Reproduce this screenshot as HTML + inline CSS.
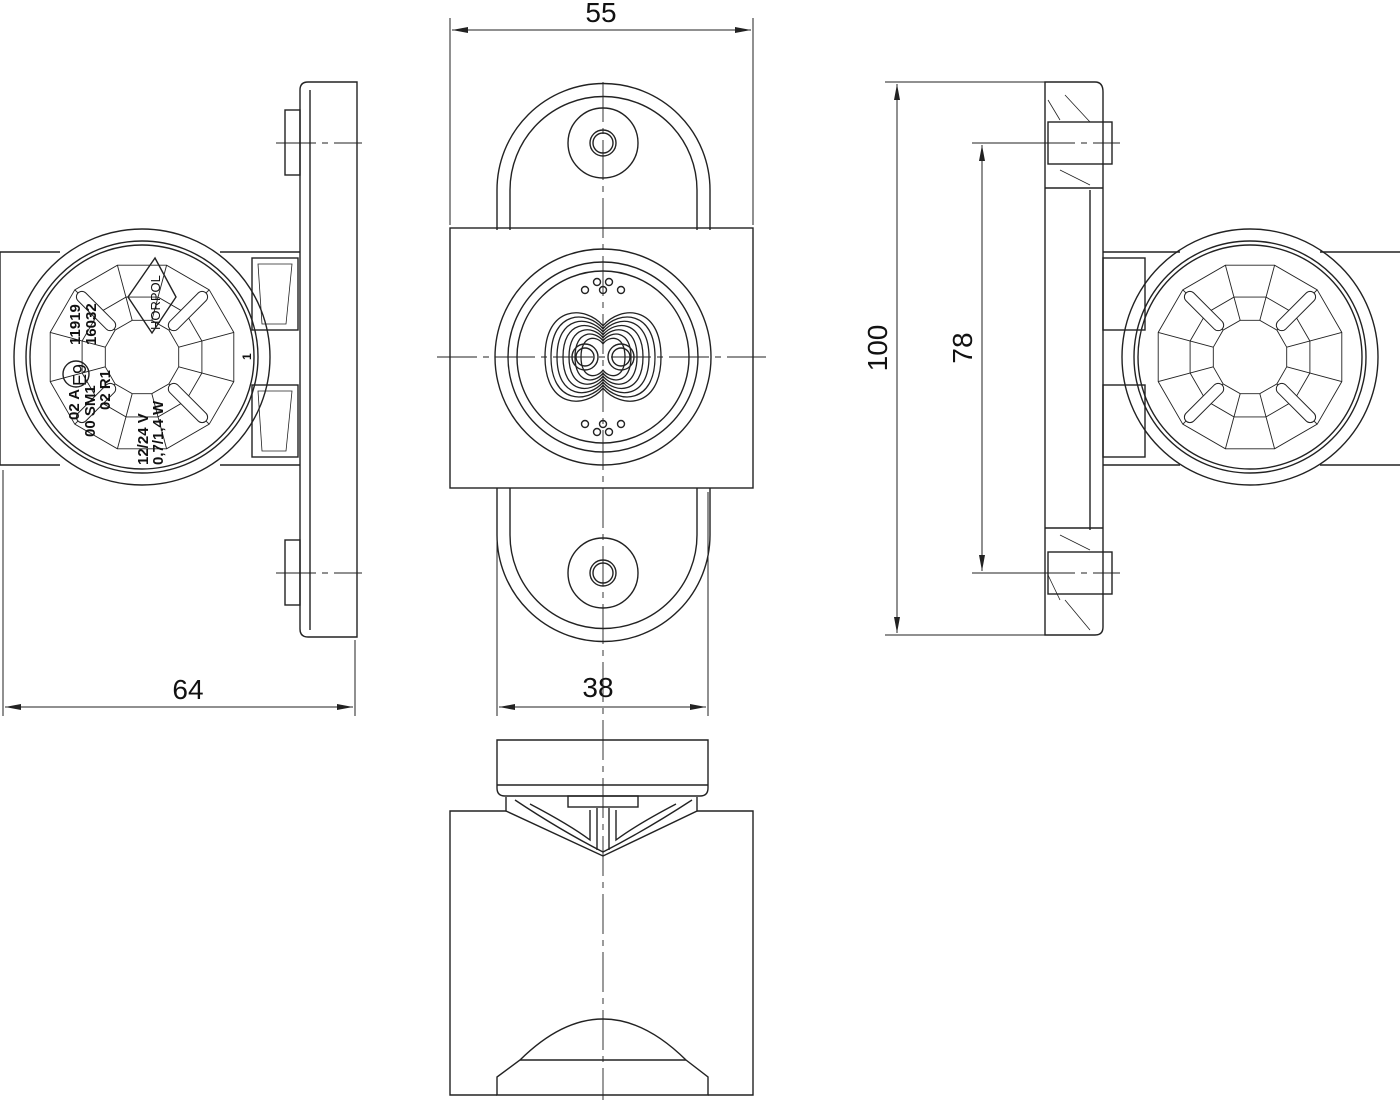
<!DOCTYPE html>
<html><head><meta charset="utf-8"><style>
html,body{margin:0;padding:0;background:#fff;}
svg{display:block;}
text{font-family:"Liberation Sans",sans-serif;fill:#111;}
</style></head><body>
<svg id="s" width="1400" height="1111" viewBox="0 0 1400 1111" xmlns="http://www.w3.org/2000/svg" fill="none" stroke="#222" stroke-width="1.4">
<defs>
<marker id="a" viewBox="0 0 16 6" refX="16" refY="3" markerWidth="16" markerHeight="6" orient="auto-start-reverse" markerUnits="userSpaceOnUse"><path d="M0,0L16,3L0,6z" fill="#222" stroke="none"/></marker>
</defs>
<g stroke-width="1">
<line x1="450" y1="18" x2="450" y2="225"/><line x1="753" y1="18" x2="753" y2="225"/>
<line x1="452" y1="30" x2="751" y2="30" marker-start="url(#a)" marker-end="url(#a)"/>
<line x1="497" y1="492" x2="497" y2="716"/><line x1="708" y1="492" x2="708" y2="716"/>
<line x1="499" y1="707" x2="706" y2="707" marker-start="url(#a)" marker-end="url(#a)"/>
<line x1="3" y1="470" x2="3" y2="716"/><line x1="355" y1="640" x2="355" y2="716"/>
<line x1="5" y1="707" x2="353" y2="707" marker-start="url(#a)" marker-end="url(#a)"/>
<line x1="885" y1="82" x2="1045" y2="82"/><line x1="885" y1="635" x2="1045" y2="635"/>
<line x1="897" y1="84" x2="897" y2="633" marker-start="url(#a)" marker-end="url(#a)"/>
<line x1="972" y1="143" x2="1045" y2="143"/><line x1="972" y1="573" x2="1045" y2="573"/>
<line x1="982" y1="145" x2="982" y2="571" marker-start="url(#a)" marker-end="url(#a)"/>
</g>
<g stroke="none">
<text x="601" y="22" font-size="28" text-anchor="middle">55</text>
<text x="598" y="697" font-size="28" text-anchor="middle">38</text>
<text x="188" y="699" font-size="28" text-anchor="middle">64</text>
<text transform="translate(887,348) rotate(-90)" font-size="28" text-anchor="middle">100</text>
<text transform="translate(972,348) rotate(-90)" font-size="28" text-anchor="middle">78</text>
</g>
<g stroke-width="0.9" stroke-dasharray="40,6,6,6">
<line x1="603" y1="82" x2="603" y2="1100"/>
<line x1="437" y1="357" x2="766" y2="357"/>
<line x1="276" y1="143" x2="362" y2="143"/><line x1="276" y1="573" x2="362" y2="573"/>
<line x1="1035" y1="143" x2="1120" y2="143"/><line x1="1035" y1="573" x2="1120" y2="573"/>
</g>
<path d="M497,230 V190 A106,106 0 0 1 710,190 V230"/>
<path d="M510,230 V190 A93,93 0 0 1 697,190 V230"/>
<path d="M497,488 V535 A106,106 0 0 0 710,535 V488"/>
<path d="M510,488 V535 A93,93 0 0 0 697,535 V488"/>
<circle cx="603" cy="143" r="35"/><circle cx="603" cy="143" r="13"/><circle cx="603" cy="143" r="10"/>
<circle cx="603" cy="573" r="35"/><circle cx="603" cy="573" r="13"/><circle cx="603" cy="573" r="10"/>
<rect x="450" y="228" width="303" height="260"/>
<circle cx="603" cy="357" r="108"/><circle cx="603" cy="357" r="95"/><circle cx="603" cy="357" r="86"/>
<g id="lens"></g>
<path d="M497,740 H708 V788 Q708,796 700,796 H505 Q497,796 497,788 Z"/>
<line x1="497" y1="785" x2="708" y2="785"/>
<rect x="568" y="796" width="70" height="11"/>
<path d="M506,797 V811 L603,856 L697,811 V797"/>
<path d="M515,800 Q560,830 603,852 Q646,830 692,800"/>
<path d="M530,804 Q570,825 590,840 V810"/><path d="M676,804 Q636,825 616,840 V810"/>
<line x1="597" y1="808" x2="597" y2="850"/><line x1="609" y1="808" x2="609" y2="850"/>
<path d="M506,811 H450 V1095 H497"/><path d="M697,811 H753 V1095 H708"/>
<path d="M497,1095 V1077 L520,1060 Q603,978 686,1060 L708,1077 V1095 Z"/>
<path d="M520,1060 H686"/>
<path d="M300,255 V90 Q300,82 308,82 H357 V637 H308 Q300,637 300,629 Z"/>
<line x1="310" y1="90" x2="310" y2="630"/>
<rect x="285" y="110" width="15" height="65"/><rect x="285" y="540" width="15" height="65"/>
<path d="M0,252 H60 M0,252 V465 H60"/>
<path d="M220,252 H300 M220,465 H300"/>
<rect x="252" y="258" width="46" height="72"/><rect x="252" y="385" width="46" height="72"/>
<path d="M258,264 L292,264 L286,324 L262,324 Z M258,391 L292,391 L286,451 L262,451 Z" stroke-width="0.8"/>
<circle cx="142" cy="357" r="128"/><circle cx="142" cy="357" r="116"/><circle cx="142" cy="357" r="112"/>
<g id="wl"></g>
<g stroke="none" font-weight="bold">
<text transform="translate(80,345) rotate(-90)" font-size="15">11919</text>
<text transform="translate(96,345) rotate(-90)" font-size="15">16032</text>
<text transform="translate(79,420) rotate(-90)" font-size="15">02 A</text>
<text transform="translate(95,437) rotate(-90)" font-size="15">00 SM1</text>
<text transform="translate(110,410) rotate(-90)" font-size="15">02 R1</text>
<text transform="translate(148,465) rotate(-90)" font-size="15">12/24 V</text>
<text transform="translate(163,465) rotate(-90)" font-size="15">0,7/1,4 W</text>
<text transform="translate(251,360) rotate(-90)" font-size="12">1</text>
<text transform="translate(160,330) rotate(-90)" font-size="13" font-weight="normal">HORPOL</text>
<text transform="translate(86,386) rotate(-90)" font-size="18" font-weight="normal">E9</text>
</g>
<circle cx="76" cy="374" r="13"/>
<path d="M155,258 L128,297 L152,333 L176,297 Z"/>
<path d="M1045,82 H1095 Q1103,82 1103,92 V627 Q1103,635 1095,635 H1045 Z"/>
<line x1="1090" y1="190" x2="1090" y2="530"/>
<line x1="1045" y1="188" x2="1103" y2="188"/><line x1="1045" y1="528" x2="1103" y2="528"/>
<rect x="1048" y="122" width="64" height="42"/><rect x="1048" y="552" width="64" height="42"/>
<path d="M1048,100 L1060,120 M1065,95 L1090,122 M1060,170 L1090,185 M1048,575 L1060,600 M1065,600 L1090,630 M1060,535 L1090,550" stroke-width="0.8"/>
<path d="M1103,252 H1180 M1103,465 H1180 M1320,252 H1400 M1320,465 H1400"/>
<rect x="1103" y="258" width="42" height="72"/><rect x="1103" y="385" width="42" height="72"/>
<circle cx="1250" cy="357" r="128"/><circle cx="1250" cy="357" r="116"/><circle cx="1250" cy="357" r="112"/>
<g id="wr"></g>
</svg>
<script>
var NS="http://www.w3.org/2000/svg";
function poly(g,cx,cy,r,n,off){var p=[];for(var i=0;i<n;i++){var a=off+i*2*Math.PI/n;p.push((cx+r*Math.cos(a)).toFixed(1)+","+(cy+r*Math.sin(a)).toFixed(1));}var e=document.createElementNS(NS,"polygon");e.setAttribute("points",p.join(" "));e.setAttribute("stroke-width","0.9");g.appendChild(e);}
function line(g,x1,y1,x2,y2,w){var e=document.createElementNS(NS,"line");e.setAttribute("x1",x1);e.setAttribute("y1",y1);e.setAttribute("x2",x2);e.setAttribute("y2",y2);e.setAttribute("stroke-width",w||0.9);g.appendChild(e);}
function wheel(id,cx,cy){var g=document.getElementById(id);var off=Math.PI/12;
poly(g,cx,cy,95,12,off);poly(g,cx,cy,62,12,off);poly(g,cx,cy,38,12,off);
for(var i=0;i<12;i++){var a=off+i*Math.PI/6;line(g,cx+38*Math.cos(a),cy+38*Math.sin(a),cx+95*Math.cos(a),cy+95*Math.sin(a));}
for(var k=0;k<4;k++){var a=Math.PI/4+k*Math.PI/2;var e=document.createElementNS(NS,"line");e.setAttribute("x1",cx+45*Math.cos(a));e.setAttribute("y1",cy+45*Math.sin(a));e.setAttribute("x2",cx+85*Math.cos(a));e.setAttribute("y2",cy+85*Math.sin(a));e.setAttribute("stroke-width","12");e.setAttribute("stroke","#222");e.setAttribute("stroke-linecap","round");g.appendChild(e);var f=e.cloneNode();f.setAttribute("stroke-width","10");f.setAttribute("stroke","#fff");g.appendChild(f);}}
wheel("wl",142,357);wheel("wr",1250,357);
var L=document.getElementById("lens");
for(var i=0;i<7;i++){var w=58-i*6,h=52-i*5;var e=document.createElementNS(NS,"path");
e.setAttribute("d","M603,"+(357-h*0.6)+" C"+(603-w*0.3)+","+(357-h)+" "+(603-w)+","+(357-h)+" "+(603-w)+",357 C"+(603-w)+","+(357+h)+" "+(603-w*0.3)+","+(357+h)+" 603,"+(357+h*0.6)+" C"+(603+w*0.3)+","+(357+h)+" "+(603+w)+","+(357+h)+" "+(603+w)+",357 C"+(603+w)+","+(357-h)+" "+(603+w*0.3)+","+(357-h)+" 603,"+(357-h*0.6)+"Z");
e.setAttribute("stroke-width","1.3");L.appendChild(e);}
[[585,357,13],[621,357,13],[585,357,9],[621,357,9]].forEach(function(c){var e=document.createElementNS(NS,"circle");e.setAttribute("cx",c[0]);e.setAttribute("cy",c[1]);e.setAttribute("r",c[2]);L.appendChild(e);});
[[585,290],[603,290],[621,290],[597,282],[609,282],[585,424],[603,424],[621,424],[597,432],[609,432]].forEach(function(c){var e=document.createElementNS(NS,"circle");e.setAttribute("cx",c[0]);e.setAttribute("cy",c[1]);e.setAttribute("r",3.5);L.appendChild(e);});
</script>
</body></html>
